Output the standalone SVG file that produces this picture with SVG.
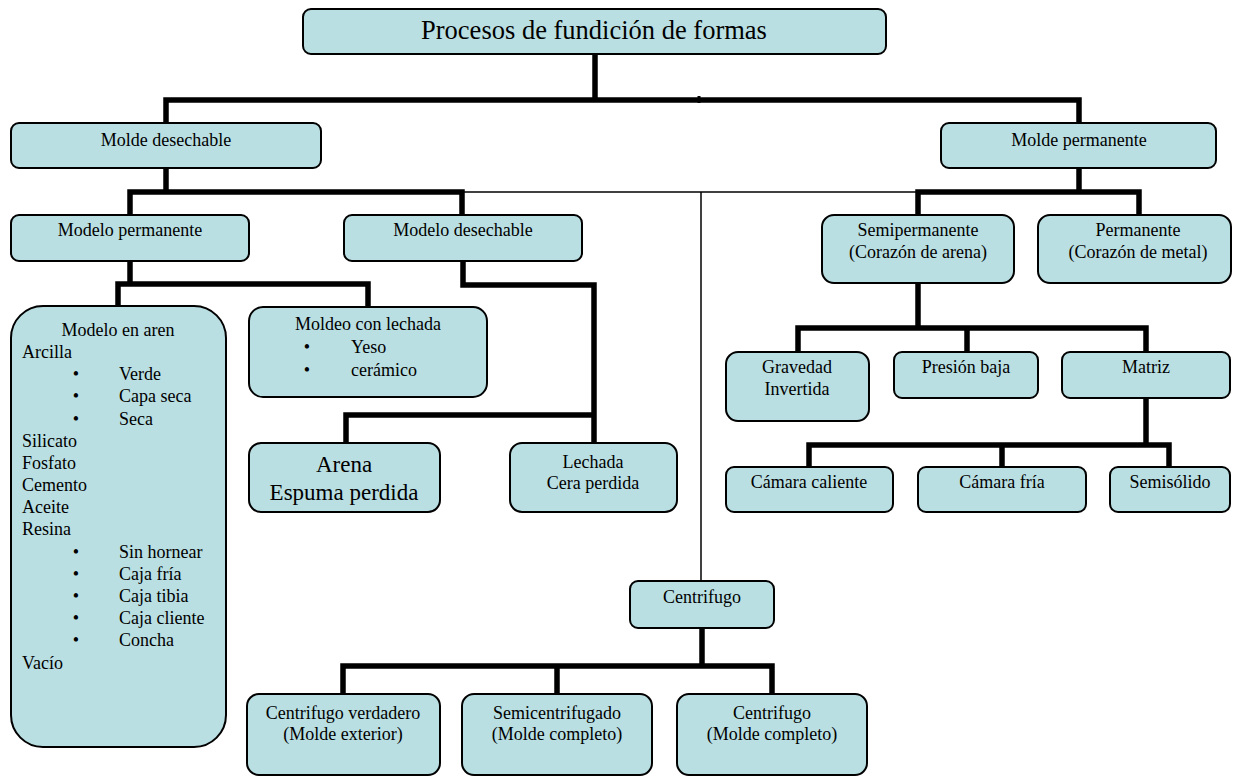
<svg xmlns="http://www.w3.org/2000/svg" width="1233" height="777" viewBox="0 0 1233 777">
  <defs>
    <style>
      .box { fill: #B9DFE3; stroke: #000; stroke-width: 2; }
      .thick { fill: none; stroke: #000; stroke-width: 5.5; stroke-linejoin: miter; }
      .thin { fill: none; stroke: #000; stroke-width: 1.5; }
      .c { text-anchor: middle; }
      .lbl { font-family: "Liberation Serif", "Times New Roman", serif; font-size: 18px; fill: #000; }
    </style>
  </defs>
  <rect width="1233" height="777" fill="#fff"/>

  <!-- connectors -->
  <g id="connectors">
    <path class="thick" d="M595,55 V100"/>
    <path class="thick" d="M166,123 V100 H1079 V123"/>
    <path class="thick" d="M699,96 V103" style="stroke-width:3"/>
    <path class="thick" d="M166,168 V192"/>
    <path class="thick" d="M130,215 V192 H462 V215"/>
    <path class="thin" d="M462,192 H916"/>
    <path class="thin" d="M701,192 V581"/>
    <path class="thick" d="M1079,168 V192"/>
    <path class="thick" d="M918,215 V192 H1139 V215"/>
    <path class="thick" d="M130,261 V284"/>
    <path class="thick" d="M118,306 V284 H368 V307"/>
    <path class="thick" d="M463,261 V285 H594 V443"/>
    <path class="thick" d="M346,443 V415 H594"/>
    <path class="thick" d="M918,283 V328"/>
    <path class="thick" d="M798,352 V328 H1146 V352"/>
    <path class="thick" d="M967,328 V352"/>
    <path class="thick" d="M1146,398 V445"/>
    <path class="thick" d="M809,467 V445 H1169 V467"/>
    <path class="thick" d="M1002,445 V467"/>
    <path class="thick" d="M702,628 V666"/>
    <path class="thick" d="M343,694 V666 H772 V694"/>
    <path class="thick" d="M557,666 V694"/>
  </g>

  <g class="lbl">

  <g id="root">
    <rect class="box" x="303" y="9" width="583" height="45" rx="8"/>
    <text class="c" x="594" y="39" style="font-size:26.5px">Procesos de fundición de formas</text>
  </g>

  <g id="molde-desechable">
    <rect class="box" x="11" y="123" width="310" height="45" rx="8"/>
    <text class="c" x="166" y="146">Molde desechable</text>
  </g>

  <g id="molde-permanente">
    <rect class="box" x="941" y="123" width="275" height="45" rx="8"/>
    <text class="c" x="1079" y="146">Molde permanente</text>
  </g>

  <g id="modelo-permanente">
    <rect class="box" x="11" y="215" width="238" height="46" rx="8"/>
    <text class="c" x="130" y="236">Modelo permanente</text>
  </g>

  <g id="modelo-desechable">
    <rect class="box" x="344" y="215" width="238" height="46" rx="8"/>
    <text class="c" x="463" y="236">Modelo desechable</text>
  </g>

  <g id="modelo-en-aren">
    <rect class="box" x="11" y="306" width="215" height="441" rx="32"/>
    <text class="c" x="118" y="336">Modelo en aren</text>
    <text x="22" y="358">Arcilla</text>
    <text class="c" x="76" y="380">•</text><text x="119" y="380">Verde</text>
    <text class="c" x="76" y="402">•</text><text x="119" y="402">Capa seca</text>
    <text class="c" x="76" y="425">•</text><text x="119" y="425">Seca</text>
    <text x="22" y="447">Silicato</text>
    <text x="22" y="469">Fosfato</text>
    <text x="22" y="491">Cemento</text>
    <text x="22" y="513">Aceite</text>
    <text x="22" y="535">Resina</text>
    <text class="c" x="76" y="558">•</text><text x="119" y="558">Sin hornear</text>
    <text class="c" x="76" y="580">•</text><text x="119" y="580">Caja fría</text>
    <text class="c" x="76" y="602">•</text><text x="119" y="602">Caja tibia</text>
    <text class="c" x="76" y="624">•</text><text x="119" y="624">Caja cliente</text>
    <text class="c" x="76" y="646">•</text><text x="119" y="646">Concha</text>
    <text x="22" y="669">Vacío</text>
  </g>

  <g id="moldeo-con-lechada">
    <rect class="box" x="249" y="307" width="238" height="90" rx="14"/>
    <text class="c" x="368" y="330">Moldeo con lechada</text>
    <text class="c" x="307" y="353">•</text>
    <text x="351" y="353">Yeso</text>
    <text class="c" x="307" y="376">•</text>
    <text x="351" y="376">cerámico</text>
  </g>

  <g id="arena">
    <rect class="box" x="249" y="443" width="191" height="69" rx="12"/>
    <text class="c" x="344" y="472" style="font-size:23px">Arena</text>
    <text class="c" x="344" y="500" style="font-size:23px">Espuma perdida</text>
  </g>

  <g id="lechada">
    <rect class="box" x="510" y="443" width="167" height="69" rx="12"/>
    <text class="c" x="593" y="468">Lechada</text>
    <text class="c" x="593" y="489">Cera perdida</text>
  </g>

  <g id="semipermanente">
    <rect class="box" x="822" y="215" width="192" height="68" rx="12"/>
    <text class="c" x="918" y="236">Semipermanente</text>
    <text class="c" x="918" y="258">(Corazón de arena)</text>
  </g>

  <g id="permanente">
    <rect class="box" x="1038" y="215" width="193" height="68" rx="12"/>
    <text class="c" x="1138" y="236">Permanente</text>
    <text class="c" x="1138" y="258">(Corazón de metal)</text>
  </g>

  <g id="gravedad-invertida">
    <rect class="box" x="726" y="352" width="143" height="69" rx="12"/>
    <text class="c" x="797" y="373">Gravedad</text>
    <text class="c" x="797" y="395">Invertida</text>
  </g>

  <g id="presion-baja">
    <rect class="box" x="894" y="352" width="144" height="46" rx="8"/>
    <text class="c" x="966" y="373">Presión baja</text>
  </g>

  <g id="matriz">
    <rect class="box" x="1062" y="352" width="168" height="46" rx="8"/>
    <text class="c" x="1146" y="373">Matriz</text>
  </g>

  <g id="camara-caliente">
    <rect class="box" x="726" y="467" width="167" height="45" rx="8"/>
    <text class="c" x="809" y="488">Cámara caliente</text>
  </g>

  <g id="camara-fria">
    <rect class="box" x="918" y="467" width="168" height="45" rx="8"/>
    <text class="c" x="1002" y="488">Cámara fría</text>
  </g>

  <g id="semisolido">
    <rect class="box" x="1110" y="467" width="120" height="45" rx="8"/>
    <text class="c" x="1170" y="488">Semisólido</text>
  </g>

  <g id="centrifugo">
    <rect class="box" x="630" y="581" width="144" height="47" rx="8"/>
    <text class="c" x="702" y="603">Centrifugo</text>
  </g>

  <g id="centrifugo-verdadero">
    <rect class="box" x="247" y="694" width="193" height="81" rx="12"/>
    <text class="c" x="343" y="719">Centrifugo verdadero</text>
    <text class="c" x="343" y="740">(Molde exterior)</text>
  </g>

  <g id="semicentrifugado">
    <rect class="box" x="462" y="694" width="190" height="81" rx="12"/>
    <text class="c" x="557" y="719">Semicentrifugado</text>
    <text class="c" x="557" y="740">(Molde completo)</text>
  </g>

  <g id="centrifugo-molde-completo">
    <rect class="box" x="677" y="694" width="190" height="81" rx="12"/>
    <text class="c" x="772" y="719">Centrifugo</text>
    <text class="c" x="772" y="740">(Molde completo)</text>
  </g>

  </g>
</svg>
